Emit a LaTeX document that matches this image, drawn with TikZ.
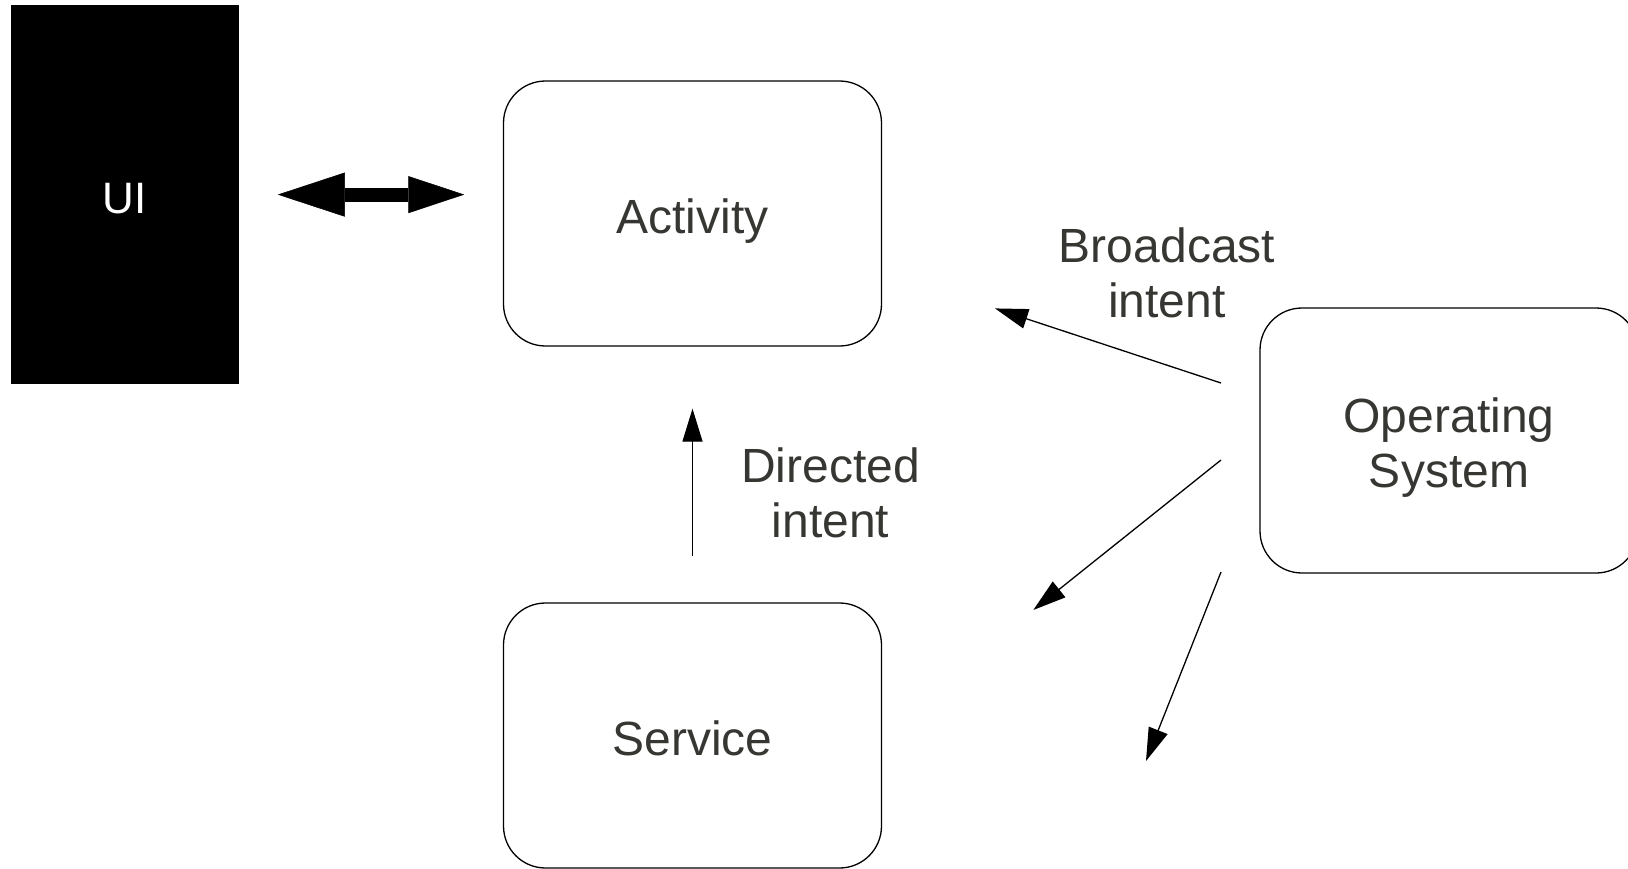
\documentclass[tikz,border=0pt]{standalone}
\usepackage{fontspec}
\setmainfont{Liberation Sans}
\usetikzlibrary{arrows.meta}
\definecolor{labelgray}{RGB}{54,54,50}
\tikzset{
    compbox/.style={draw, rounded corners=42pt, line width=1.3pt, minimum width=378pt, minimum height=265pt,
        text=labelgray, align=center, text height=39pt, text depth=0pt, font=\fontsize{48}{55}\selectfont},
    msg/.style={-{Triangle[length=33pt,width=20pt]}, line width=1.3pt},
    msglabel/.style={text=labelgray, align=center, font=\fontsize{48}{55}\selectfont}
}
\begin{document}
\begin{tikzpicture}[x=1pt,y=-1pt]
        \useasboundingbox (0,0) rectangle (1628,868);

        % screen
        \node[fill=black, minimum width=228pt, minimum height=379pt, text=white, text height=37.5pt,
            font=\fontsize{44}{50}\selectfont] (ui) at (124.6,194.6) {UI};

        % components
        \node[compbox] (act) at (692.5,213.5) {Activity};
        \node[compbox] (svc) at (692.5,735.5) {Service};
        \node[compbox, text height=93pt] (os) at (1449,440.5) {Operating\\System};

        % labels
        \node[msglabel] (bcast) at (1167,273) {Broadcast\\intent};
        \node[msglabel] (direct) at (830.6,493) {Directed\\intent};

        % broadcast ends
        \coordinate (os1) at (1221,383);
        \coordinate (os2) at (1221,460);
        \coordinate (os3) at (1221,572);
        \coordinate (out1) at (995,308.4);
        \coordinate (out2) at (1033.3,610);
        \coordinate (out3) at (1146,761);

        % ui <-> activity
        \draw[line width=14pt, shorten <=39pt, shorten >=38.6pt,
            {Triangle[length=67pt,width=44pt,line width=0.5pt]}-{Triangle[length=56pt,width=37pt,line width=0.5pt]}]
            (ui.east) -- (ui.east -| act.west);

        % directed intent
        \draw[msg, shorten <=46pt, shorten >=62pt] (svc.north) -- (act.south);

        % broadcast intent
        \draw[msg] (os1) -- (out1);
        \draw[msg] (os2) -- (out2);
        \draw[msg] (os3) -- (out3);
\end{tikzpicture}
\end{document}
